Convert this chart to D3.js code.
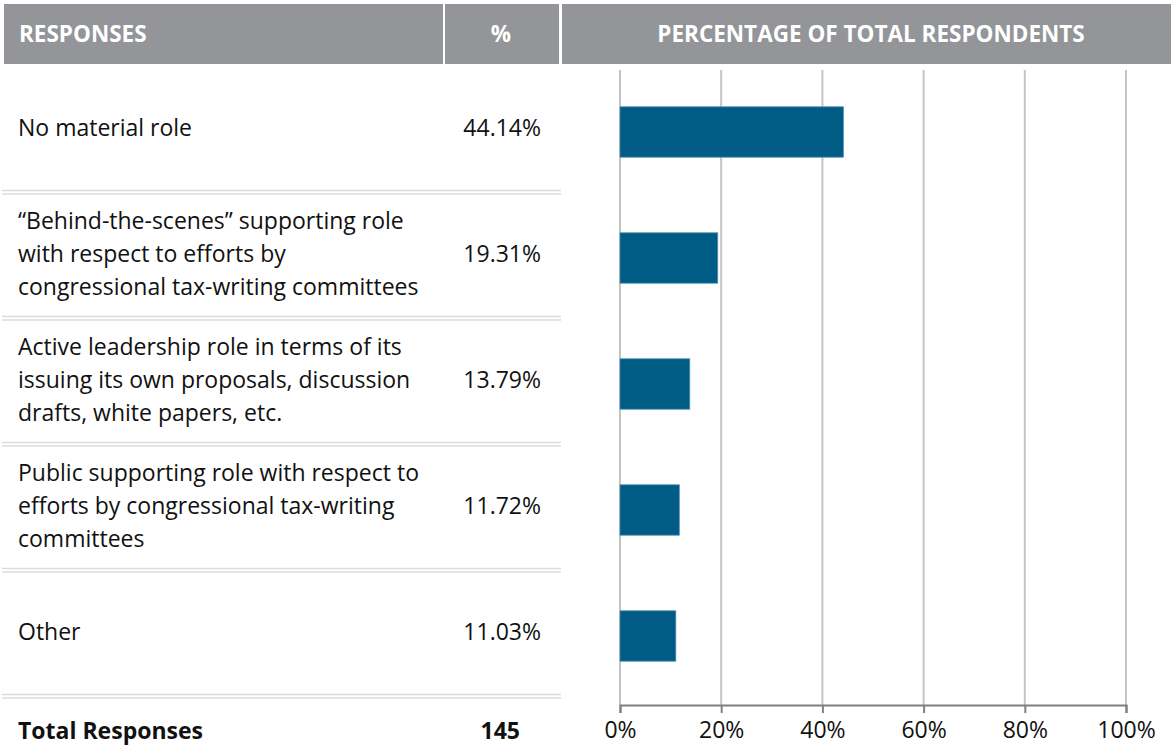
<!DOCTYPE html>
<html>
<head>
<meta charset="utf-8">
<script src="https://cdn.jsdelivr.net/npm/d3@7"></script>
<style>
  body { margin: 0; background: #fff; }
  text { font-family: "Open Sans", sans-serif; }
</style>
</head>
<body>
<div id="chart"></div>
<script>
let responses = [
  ["No material role"],
  ["\u201cBehind-the-scenes\u201d supporting role", "with respect to efforts by", "congressional tax-writing committees"],
  ["Active leadership role in terms of its", "issuing its own proposals, discussion", "drafts, white papers, etc."],
  ["Public supporting role with respect to", "efforts by congressional tax-writing", "committees"],
  ["Other"]
];
let percents = [44.14, 19.31, 13.79, 11.72, 11.03];
let tickValues = [0, 20, 40, 60, 80, 100];
let totalResponses = 145;

let width = 1175, height = 747;
let textColor = "#111";
let headerColor = "#939598";
let fontSize = "23px";

let svg = d3.select("#chart").append("svg")
  .attr("width", width)
  .attr("height", height);

// Header band
let headers = [
  { x0: 4, x1: 443, label: "RESPONSES", anchor: "start", tx: 19 },
  { x0: 445, x1: 559, label: "%", anchor: "middle", tx: 501 },
  { x0: 562, x1: 1171, label: "PERCENTAGE OF TOTAL RESPONDENTS", anchor: "middle", tx: 871 }
];
svg.selectAll(".head").data(headers).enter().append("rect")
  .attr("x", d => d.x0)
  .attr("y", 4)
  .attr("width", d => d.x1 - d.x0)
  .attr("height", 60)
  .style("fill", headerColor);

svg.selectAll(".headText").data(headers).enter().append("text")
  .attr("x", d => d.tx)
  .attr("y", 34)
  .attr("dy", "0.35em")
  .style("text-anchor", d => d.anchor)
  .style("font-weight", "bold")
  .style("font-size", "22.5px")
  .style("fill", "#fff")
  .text(d => d.label);

// Scales
let x = d3.scaleLinear().domain([0, 100]).range([620, 1126]);
let y = d3.scaleBand().domain(d3.range(responses.length))
  .range([69, 699])
  .paddingInner(0.6)
  .paddingOuter(0.3);

let rowCenter = i => 128 + i * y.step();

// Row separators (double lines)
for (let i = 0; i < responses.length; i++) {
  let sy = 190.5 + i * y.step();
  [sy, sy + 3.5].forEach(function (ly) {
    svg.append("line")
      .attr("x1", 2).attr("x2", 561)
      .attr("y1", ly).attr("y2", ly)
      .style("stroke", "#dcdcdc")
      .style("stroke-width", 1.3);
  });
}

// Response labels
for (let i = 0; i < responses.length; i++) {
  let lines = responses[i];
  let t = svg.append("text")
    .style("font-size", fontSize)
    .style("fill", textColor);
  lines.forEach(function (line, j) {
    t.append("tspan")
      .attr("x", 18)
      .attr("y", rowCenter(i) + (j - (lines.length - 1) / 2) * 33)
      .attr("dy", "0.35em")
      .text(line);
  });

  svg.append("text")
    .attr("x", 541)
    .attr("y", rowCenter(i))
    .attr("dy", "0.35em")
    .style("text-anchor", "end")
    .style("font-size", fontSize)
    .style("fill", textColor)
    .text(percents[i].toFixed(2) + "%");
}

// Gridlines
svg.selectAll(".grid").data(tickValues).enter().append("line")
  .attr("x1", d => x(d)).attr("x2", d => x(d))
  .attr("y1", 70).attr("y2", 705)
  .style("stroke", "#c4c4c4")
  .style("stroke-width", 2);

// Bars
svg.selectAll(".bar").data(percents).enter().append("rect")
  .attr("x", x(0))
  .attr("y", (d, i) => y(i))
  .attr("width", d => x(d) - x(0))
  .attr("height", y.bandwidth())
  .style("fill", "#005b85")
  .style("stroke", "#4f8fb3")
  .style("stroke-width", 0.8);

// Bottom axis
let axis = svg.append("g")
  .attr("transform", "translate(0,705)")
  .call(d3.axisBottom(x).tickValues(tickValues).tickSize(8).tickSizeOuter(8).tickPadding(9)
    .tickFormat(d => d + "%"));
axis.select(".domain").style("stroke", "#808080").style("stroke-width", 2);
axis.selectAll(".tick line").style("stroke", "#808080").style("stroke-width", 2);
axis.selectAll(".tick text")
  .style("font-family", "'Open Sans', sans-serif")
  .style("font-size", fontSize)
  .style("fill", textColor);

// Total row
svg.append("text")
  .attr("x", 18).attr("y", 731).attr("dy", "0.35em")
  .style("font-size", fontSize).style("font-weight", "bold").style("fill", textColor)
  .text("Total Responses");
svg.append("text")
  .attr("x", 520).attr("y", 731).attr("dy", "0.35em")
  .style("text-anchor", "end")
  .style("font-size", fontSize).style("font-weight", "bold").style("fill", textColor)
  .text(totalResponses);
</script>
</body>
</html>
